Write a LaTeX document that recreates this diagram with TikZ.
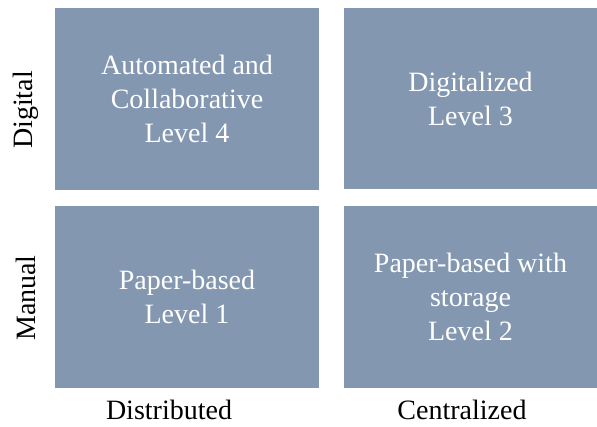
\documentclass[tikz,border=0pt]{standalone}
\usepackage{fontspec}
\setmainfont{Liberation Serif}
\usetikzlibrary{positioning}
\definecolor{quadfill}{HTML}{8497B0}

\begin{document}
\begin{tikzpicture}[x=1pt, y=-1pt,
  quad/.style={fill=quadfill, text=white, align=center, inner sep=0pt, font=\fontsize{28}{34}\selectfont},
  axis/.style={font=\fontsize{28}{34}\selectfont, inner sep=0pt}]
\useasboundingbox (0,0) rectangle (597,426);
% the four maturity quadrants
\node[quad, minimum width=264pt, minimum height=182pt] (auto) at (187,99) {Automated and\\Collaborative\\Level 4};
\node[quad, minimum width=253pt, minimum height=181pt] (digi) at (470.5,98.5) {Digitalized\\Level 3};
\node[quad, minimum width=264pt, minimum height=182pt] (paper) at (187,297) {Paper-based\\Level 1};
\node[quad, minimum width=253pt, minimum height=182pt] (store) at (470.5,297) {Paper-based with\\storage\\Level 2};
% axis labels
\node[axis, rotate=90] (dig) at (26,110) {Digital};
\node[axis, rotate=90] (man) at (26,298) {Manual};
\node[axis] (dist) at (169,410) {Distributed};
\node[axis] (cent) at (462,410) {Centralized};
\end{tikzpicture}
\end{document}
